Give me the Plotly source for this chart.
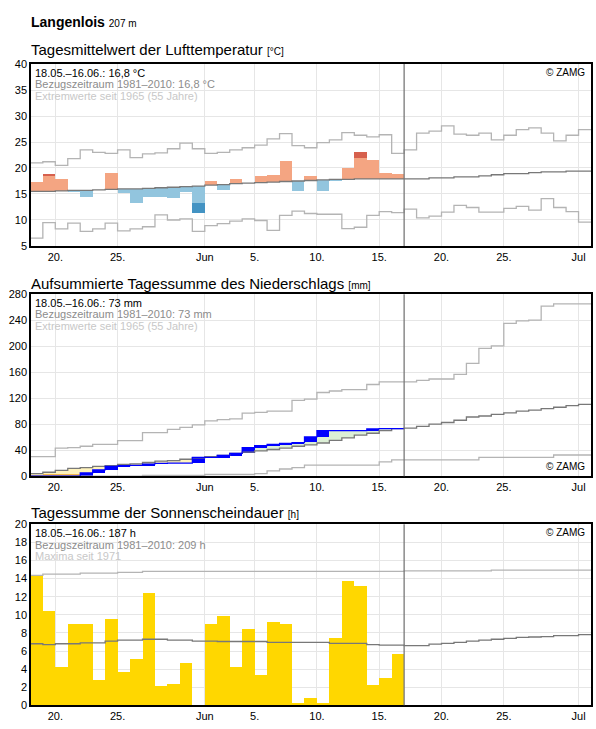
import plotly.graph_objects as go

# ---- data (day index 0 = 18 May) ----
temp_actual = [17.3,18.8,17.9,15.4,14.5,15.8,19.1,15.2,13.3,14.5,14.5,14.3,15.4,11.3,17.4,15.7,17.9,17.1,18.5,18.6,21.4,15.5,18.4,15.5,17.4,19.9,23.0,21.6,19.1,18.9]
temp_dark_from = {1:18.5, 13:13.2, 26:21.9}
temp_mean = [15.5,15.5,15.6,15.7,15.7,15.8,15.9,16.0,16.0,16.1,16.2,16.3,16.4,16.5,16.7,16.8,17.0,17.1,17.2,17.3,17.4,17.5,17.6,17.7,17.8,17.8,17.9,17.9,17.9,17.9,
             17.9,17.9,18.1,18.1,18.3,18.3,18.5,18.7,18.9,18.9,19.1,19.25,19.25,19.4,19.4,19.4]
temp_max = [21.0,21.2,20.5,21.8,23.5,23.0,22.8,23.5,22.0,22.7,22.9,23.7,24.8,23.7,22.8,23.0,23.5,23.9,24.4,25.6,26.6,24.3,23.9,24.9,25.4,26.8,26.3,26.0,26.4,22.8,
            23.5,26.7,27.1,28.1,26.5,26.3,26.7,25.4,26.3,27.4,27.7,26.7,25.2,26.3,27.4,27.4]
temp_min = [6.5,9.5,8.3,9.4,7.8,8.3,9.4,7.9,8.3,8.7,11.0,10.0,10.2,7.8,8.9,9.3,9.8,10.2,9.9,8.0,10.9,11.7,11.25,11.1,11.1,8.35,8.6,10.9,11.6,11.4,
            12.1,10.4,10.75,11.5,12.8,12.4,11.5,11.5,12.25,12.6,11.9,14.1,12.4,11.6,9.6,9.6]

rain_cum = [0,0,0,0,5,9.6,15,16,16.6,18.7,19.7,20,20,29,29,32,35,44,47,49,50.5,51.5,60.5,70,70,70,70,72.6,73,73]
rain_dry_extra = [1,1.5,3,3]
rain_mean = [4,6,9,12,13,15,16,18,19,21,23,24,26,28,30,32,35,37,39,41,43,46,48,51,55,59,63,66,70,73,
             74,76.5,80,82.5,86,91,92.5,95,97.5,100,101.5,104,106,108.5,110.5,110.5]
rain_max = [30,30,43,44,46,49,49,54.5,54.5,67,67,72,75,79,85,87,88,97,98,100,100,116.5,118.5,128.7,131,133,133,141,145,145,
            145,147.5,149.5,149.5,156.5,173.5,196.5,200.5,235,239,240,261.5,265,265,265,265]
rain_min = [0,0,0,0,0,0,0,0,0,1,1,1,1,1,2.5,2.5,2.5,2.5,4,8,11,13,17,17,17,17,17,17,22,25,
            25,25,25,25,25,25,29,29,29,29,29,29,32.5,32.5,32.5,32.5]

sun = [14.4,10.4,4.2,8.9,9.0,2.8,9.5,3.6,5.1,12.4,2.1,2.3,4.6,0,9.0,9.8,4.2,8.4,3.3,9.2,8.9,0.25,0.8,0.25,7.4,13.7,13.1,2.2,3.0,5.6]
sun_mean = [6.8,6.7,6.8,6.8,6.9,6.9,7.1,7.2,7.2,7.3,7.3,7.2,7.2,7.1,7.1,7.05,7.05,7.05,7.05,6.95,6.95,6.95,6.95,6.95,6.85,6.85,6.85,6.7,6.65,6.65,
            6.6,6.6,6.75,6.85,6.95,7.1,7.2,7.3,7.4,7.5,7.55,7.6,7.7,7.7,7.8,7.8]
sun_max = [14.35,14.5,14.5,14.5,14.6,14.6,14.6,14.7,14.7]+[14.8]*21+[14.85]*7+[14.95]*9

tick_vals = [2,7,14,18,23,28,33,38,44]
tick_text = ["20.","25.","Jun","5.","10.","15.","20.","25.","Jul"]

FONT = "Liberation Sans, Arial, sans-serif"
W, H = 596, 729
fig = go.Figure()

def step(vals, color, width, ax):
    n = len(vals)
    fig.add_trace(go.Scatter(x=list(range(n))+[n], y=vals+[vals[-1]], mode="lines",
                             line=dict(color=color, width=width, shape="hv"),
                             xaxis=ax[0], yaxis=ax[1], showlegend=False, hoverinfo="skip"))

def bars(xs, base, h, color, ax):
    fig.add_trace(go.Bar(x=[i+0.5 for i in xs], y=h, base=base, width=1, marker=dict(color=color, line=dict(width=0)),
                         xaxis=ax[0], yaxis=ax[1], showlegend=False, hoverinfo="skip"))

A1, A2, A3 = ("x","y"), ("x2","y2"), ("x3","y3")

# ---- temperature ----
for i, a in enumerate(temp_actual):
    m = temp_mean[i]
    above = a >= m
    light = "#f4a582" if above else "#92c5de"
    dark = "#d6604d" if above else "#4393c3"
    end = temp_dark_from.get(i, a)
    bars([i], [min(m, end)], [abs(end-m)], light, A1)
    if i in temp_dark_from:
        bars([i], [min(end, a)], [abs(a-end)], dark, A1)
step(temp_max, "#b4b4b4", 1.3, A1)
step(temp_min, "#b4b4b4", 1.3, A1)
step(temp_mean, "#787878", 1.3, A1)

# ---- precipitation ----
for i, a in enumerate(rain_cum):
    m = rain_mean[i]
    bars([i], [min(a, m)], [abs(a-m)], "#fff3bd" if a < m else "#dcefd6", A2)
bars(list(range(len(rain_dry_extra))), [0]*len(rain_dry_extra), rain_dry_extra, "#f6b84a", A2)
prev = 0
for i, a in enumerate(rain_cum):
    if a - prev > 0.5:
        bars([i], [prev], [a-prev], "#0000ff", A2)
    prev = a
step(rain_max, "#b4b4b4", 1.3, A2)
step(rain_min, "#b4b4b4", 1.3, A2)
step(rain_mean, "#787878", 1.3, A2)
step(rain_cum, "#0000ff", 1.2, A2)

# ---- sunshine ----
bars(list(range(len(sun))), [0]*len(sun), sun, "#ffd700", A3)
step(sun_max, "#b4b4b4", 1.3, A3)
step(sun_mean, "#787878", 1.3, A3)

def ydom(top, bot):
    return [1-bot/H, 1-top/H]

xdom = [31/W, 591/W]
xcommon = dict(range=[0.05, 45], tickvals=tick_vals, ticktext=tick_text, showgrid=True, gridcolor="#e6e6e6",
               showline=True, linecolor="black", linewidth=1.5, mirror=True, ticks="", zeroline=False,
               tickfont=dict(size=11, color="black", family=FONT), domain=xdom)
ycommon = dict(showgrid=True, gridcolor="#e6e6e6", showline=True, linecolor="black", linewidth=1.5, mirror=True,
               ticks="", zeroline=False, tickfont=dict(size=11, color="black", family=FONT))
fig.update_layout(
    width=W, height=H, margin=dict(l=0, r=0, t=0, b=0), paper_bgcolor="white", plot_bgcolor="white",
    barmode="overlay", bargap=0, showlegend=False, font=dict(family=FONT),
    xaxis=dict(**xcommon, anchor="y"),
    xaxis2=dict(**xcommon, anchor="y2"),
    xaxis3=dict(**xcommon, anchor="y3"),
    yaxis=dict(**ycommon, range=[5, 40], dtick=5, domain=ydom(59, 244), anchor="x"),
    yaxis2=dict(**ycommon, range=[0, 280], dtick=40, domain=ydom(293, 478), anchor="x2"),
    yaxis3=dict(**ycommon, range=[0, 20], dtick=2, domain=ydom(527, 711), anchor="x3"),
)
for ax in ["x", "x2", "x3"]:
    yref = "y" + ax[1:] + " domain" if ax != "x" else "y domain"
    fig.add_shape(type="line", x0=30, x1=30, y0=0, y1=1, xref=ax, yref=yref, line=dict(color="#787878", width=1.3))

def ann(x, y, text, size, color, xanchor="left", yanchor="top"):
    fig.add_annotation(x=x/W, y=1-y/H, xref="paper", yref="paper", text=text, showarrow=False,
                       xanchor=xanchor, yanchor=yanchor, font=dict(size=size, color=color, family=FONT))

ann(29, 6, "<b>Langenlois</b> <span style='font-size:10px'>207 m</span>", 14, "black")
ann(29, 34, "Tagesmittelwert der Lufttemperatur <span style='font-size:10px'>[°C]</span>", 15, "black")
ann(29, 271, "Aufsummierte Tagessumme des Niederschlags <span style='font-size:10px'>[mm]</span>", 15, "black")
ann(29, 504, "Tagessumme der Sonnenscheindauer <span style='font-size:10px'>[h]</span>", 15, "black")

for top, lines in [(60, ["18.05.–16.06.: 16,8 °C", "Bezugszeitraum 1981–2010: 16,8 °C", "Extremwerte seit 1965 (55 Jahre)"]),
                   (294, ["18.05.–16.06.: 73 mm", "Bezugszeitraum 1981–2010: 73 mm", "Extremwerte seit 1965 (55 Jahre)"]),
                   (528, ["18.05.–16.06.: 187 h", "Bezugszeitraum 1981–2010: 209 h", "Maxima seit 1971"])]:
    for k, (t, c) in enumerate(zip(lines, ["black", "#8c8c8c", "#c8c8c8"])):
        ann(33, top + k*11.5, t, 11, c)

ann(587, 60, "© ZAMG", 10, "black", xanchor="right")
ann(587, 476, "© ZAMG", 10, "black", xanchor="right", yanchor="bottom")
ann(587, 528, "© ZAMG", 10, "black", xanchor="right")

fig.write_html("out.html", config={"displayModeBar": False})
with open("out.html", encoding="utf-8") as f:
    html = f.read()
html = html.replace("<head>", "<head><style>html,body{margin:0;padding:0;overflow:hidden;}</style>", 1)
with open("out.html", "w", encoding="utf-8") as f:
    f.write(html)
